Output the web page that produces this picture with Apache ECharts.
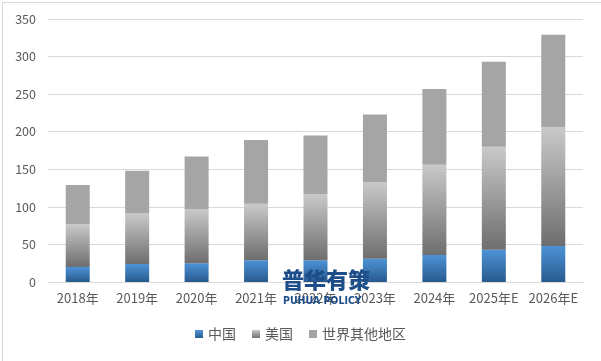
<!DOCTYPE html>
<html><head><meta charset="utf-8">
<script src="https://cdn.jsdelivr.net/npm/echarts@6/dist/echarts.min.js"></script>
<style>html,body{margin:0;padding:0;background:#fff}#c{width:601px;height:361px}</style>
</head><body><div id="c"></div>
<script>
const categories = ['2018年','2019年','2020年','2021年','2022年','2023年','2024年','2025年E','2026年E'];
const china = [20, 24, 25, 29, 29, 31, 36, 43, 48];
const usa = [57, 67, 72, 75, 88, 102, 120, 137, 158];
const rest = [52, 57, 70, 85, 78, 90, 101, 113, 123];
const seriesNames = ['中国','美国','世界其他地区'];

const chart = echarts.init(document.getElementById('c'));
const blue = new echarts.graphic.LinearGradient(0,0,0,1,[{offset:0,color:'#4d93d6'},{offset:1,color:'#285a8e'}]);
const grayG = new echarts.graphic.LinearGradient(0,0,0,1,[{offset:0,color:'#c9c9c9'},{offset:1,color:'#6e6e6e'}]);
const font = '"Microsoft YaHei","Noto Sans CJK SC","DejaVu Sans",sans-serif';
chart.setOption({
  animation:false,
  backgroundColor:'#fff',
  textStyle:{fontFamily:font},
  grid:{left:48,right:18,top:19,bottom:79,containLabel:false},
  legend:{bottom:15,left:'center',itemWidth:8,itemHeight:8,itemGap:16,icon:'rect',
    textStyle:{color:'#595959',fontSize:14,fontFamily:font},
    data:[{name:seriesNames[0],itemStyle:{color:blue}},{name:seriesNames[1],itemStyle:{color:grayG}},{name:seriesNames[2]}]},
  xAxis:{type:'category',data:categories,axisLine:{show:true,lineStyle:{color:'#d9d9d9'}},axisTick:{show:false},
    axisLabel:{color:'#595959',fontSize:13,margin:10,interval:0}},
  yAxis:{type:'value',min:0,max:350,interval:50,axisLine:{show:false},axisTick:{show:false},
    splitLine:{lineStyle:{color:'#d9d9d9'}},axisLabel:{color:'#595959',fontSize:12.5,margin:12}},
  series:[
    {name:seriesNames[0],type:'bar',stack:'a',data:china,barWidth:24,itemStyle:{color:blue}},
    {name:seriesNames[1],type:'bar',stack:'a',data:usa,barWidth:24,itemStyle:{color:grayG}},
    {name:seriesNames[2],type:'bar',stack:'a',data:rest,barWidth:24,itemStyle:{color:'#a5a5a5'}}
  ],
  graphic:[
    {type:'rect',left:0,top:0,shape:{x:0.5,y:0.5,width:600,height:360},style:{fill:'none',stroke:'#d9d9d9',lineWidth:1},silent:true,z:-1},
    {type:'text',left:282,top:269,style:{text:'普华有策',font:'900 22px "Noto Sans CJK SC",sans-serif',fill:'#1d4e89'},z:100},
    {type:'text',left:283,top:296,style:{text:'PUHUA POLICY',font:'bold 10.5px "Liberation Sans Narrow","DejaVu Sans Condensed",sans-serif',fill:'#1d4e89'},z:100}
  ]
});
</script></body></html>
